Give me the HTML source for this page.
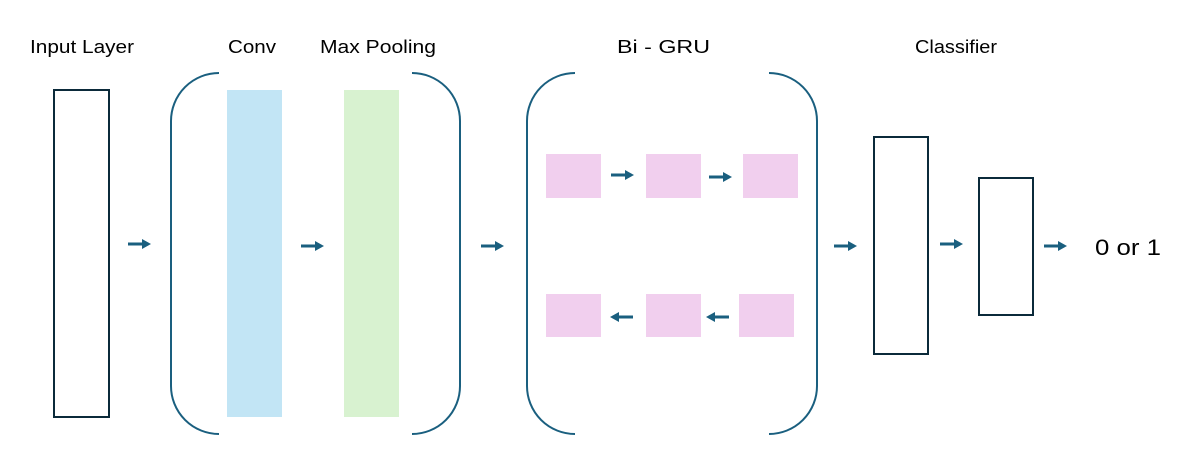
<!DOCTYPE html>
<html><head><meta charset="utf-8"><style>
html,body{margin:0;padding:0;background:#fff;}
svg{display:block}
text{font-family:"Liberation Sans","Noto Sans CJK KR",sans-serif;fill:#000}
</style></head><body>
<svg width="1199" height="469" viewBox="0 0 1199 469" xmlns="http://www.w3.org/2000/svg">
<defs>
<g id="ar"><rect x="0" y="-1.5" width="16" height="3" fill="#1a5f7f"/><path d="M14,-5 L23,0 L14,5 Z" fill="#1a5f7f"/></g>
<g id="al"><rect x="7" y="-1.5" width="16" height="3" fill="#1a5f7f"/><path d="M9,-5 L0,0 L9,5 Z" fill="#1a5f7f"/></g>
</defs>
<text x="30" y="53" font-size="18" textLength="104" lengthAdjust="spacingAndGlyphs">Input Layer</text>
<text x="228" y="53" font-size="18" textLength="48" lengthAdjust="spacingAndGlyphs">Conv</text>
<text x="320" y="53" font-size="18" textLength="116" lengthAdjust="spacingAndGlyphs">Max Pooling</text>
<text x="617" y="53" font-size="18" textLength="93" lengthAdjust="spacingAndGlyphs">Bi - GRU</text>
<text x="915" y="53" font-size="18" textLength="82" lengthAdjust="spacingAndGlyphs">Classifier</text>
<text x="1095" y="255" font-size="22" textLength="66" lengthAdjust="spacingAndGlyphs">0 or 1</text>

<rect x="54" y="90" width="55" height="327" fill="none" stroke="#0b2a3a" stroke-width="2"/>
<rect x="874" y="137" width="54" height="217" fill="none" stroke="#0b2a3a" stroke-width="2"/>
<rect x="979" y="178" width="54" height="137" fill="none" stroke="#0b2a3a" stroke-width="2"/>

<rect x="227" y="90" width="55" height="327" fill="#c2e5f5"/>
<rect x="344" y="90" width="55" height="327" fill="#d8f2d0"/>

<g fill="none" stroke="#1a5f7f" stroke-width="2">
<path d="M219,73 A48,48 0 0 0 171,121 V386 A48,48 0 0 0 219,434"/>
<path d="M412,73 A48,48 0 0 1 460,121 V386 A48,48 0 0 1 412,434"/>
<path d="M575,73 A48,48 0 0 0 527,121 V386 A48,48 0 0 0 575,434"/>
<path d="M769,73 A48,48 0 0 1 817,121 V386 A48,48 0 0 1 769,434"/>
</g>

<g fill="#f1cfee">
<rect x="546" y="154" width="55" height="44"/>
<rect x="646" y="154" width="55" height="44"/>
<rect x="743" y="154" width="55" height="44"/>
<rect x="546" y="294" width="55" height="43"/>
<rect x="646" y="294" width="55" height="43"/>
<rect x="739" y="294" width="55" height="43"/>
</g>

<use href="#ar" x="128" y="244"/>
<use href="#ar" x="301" y="246"/>
<use href="#ar" x="481" y="246"/>
<use href="#ar" x="611" y="175"/>
<use href="#ar" x="709" y="177"/>
<use href="#al" x="610" y="317"/>
<use href="#al" x="706" y="317"/>
<use href="#ar" x="834" y="246"/>
<use href="#ar" x="940" y="244"/>
<use href="#ar" x="1044" y="246"/>
</svg>
</body></html>
